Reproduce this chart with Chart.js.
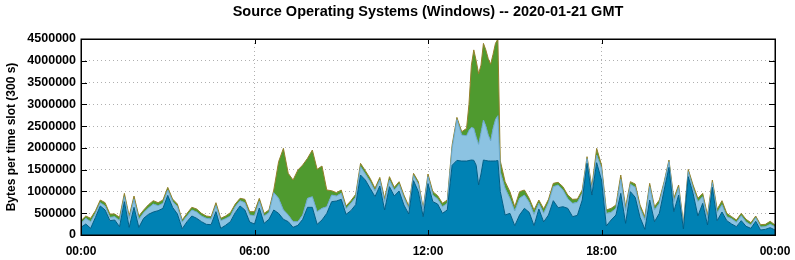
<!DOCTYPE html>
<html>
<head>
<meta charset="utf-8">
<script src="https://cdn.jsdelivr.net/npm/chart.js@4/dist/chart.umd.min.js"></script>
<style>
html,body{margin:0;padding:0;background:#fff;}
#wrap{width:795px;height:260px;}
</style>
</head>
<body>
<div id="wrap"><canvas id="c" width="795" height="260"></canvas></div>
<script>
// time slots (minutes of day): 10-min steps, 5-min steps through the 13:20-14:30 burst
function range(a, b, s){ const r = []; for (let v = a; v <= b; v += s) r.push(v); return r; }
const slotMinutes = [...range(0, 800, 10), ...range(805, 870, 5), ...range(880, 1440, 10)];
const xTickMinutes = [0, 360, 720, 1080, 1440];
const yTicks = [0, 500000, 1000000, 1500000, 2000000, 2500000, 3000000, 3500000, 4000000, 4500000];

// series values in kB per 300 s slot
const seriesA_k = [176,252,153,405,666,574,329,344,191,765,176,635,176,383,474,528,558,612,910,635,482,145,306,436,383,306,245,237,536,153,222,306,513,666,574,298,252,620,268,360,574,497,360,306,176,222,360,635,635,245,344,497,765,780,819,474,558,696,1377,1262,1071,880,1125,574,1109,895,1010,689,482,1247,995,421,1180,765,711,497,574,1600,1713,1698,1698,
  1710,1721,1715,1600,1150,1400,1721,1710,1700,1698,1698,1700,1710,1000,
  459,497,214,459,612,520,214,597,300,459,788,627,650,612,421,451,803,1645,918,1660,1262,207,344,459,956,268,995,864,405,130,803,306,497,1033,1553,536,918,138,1339,956,436,727,230,1094,329,528,329,252,191,329,199,153,314,115,130,168,115];
const seriesB_k = [92,131,153,92,76,92,76,77,138,115,199,184,184,130,146,183,115,115,123,138,168,153,130,138,145,130,138,130,137,176,153,130,137,122,168,161,192,153,168,153,398,345,214,153,130,84,99,207,245,291,268,153,153,115,137,130,169,168,191,138,153,130,137,191,153,138,153,168,130,115,168,153,160,153,115,153,153,390,937,597,582,
  690,749,735,650,930,950,919,790,600,462,752,950,1030,450,
  612,345,337,383,306,230,260,130,200,283,321,521,383,222,306,299,153,107,115,176,268,290,176,153,322,290,168,230,207,214,306,268,230,153,130,229,168,76,115,115,329,153,153,107,184,168,92,123,100,115,99,77,84,69,61,77,76];
const seriesC_k = [61,53,77,61,61,76,77,61,76,76,61,76,76,61,76,77,69,76,61,53,61,46,61,61,69,61,53,54,69,54,61,77,61,54,77,77,92,69,61,61,61,841,1415,956,956,1186,1148,918,1071,971,972,383,99,77,77,62,61,69,77,76,76,61,61,77,77,61,61,61,54,53,61,38,60,77,77,77,76,75,50,76,168,
  600,1430,1800,1750,1620,1550,1760,1750,1750,1760,1700,1750,1760,250,
  153,153,99,153,115,92,100,76,100,77,77,61,76,84,92,76,77,46,76,153,77,77,92,77,99,92,61,76,77,77,77,76,76,38,38,77,62,54,53,77,77,76,76,61,76,92,76,46,53,53,62,53,38,53,54,69,39];

const seriesNames = ['Windows A', 'Windows B', 'Windows C'];
const fillColors = ['#0082b4', '#8cc3e2', '#4f9a2f'];
const lineColors = ['#005d85', '#6aa7cb', '#93802a'];

function toPoints(arr){ return arr.map((v, i) => ({x: slotMinutes[i], y: v * 1000})); }

function fmtTime(m){
  const h = Math.floor(m / 60) % 24, mm = m % 60;
  return String(h).padStart(2,'0') + ':' + String(mm).padStart(2,'0');
}

const frameTicks = {
  id: 'frameTicks',
  afterDraw(chart){
    const {ctx, chartArea: a, scales} = chart;
    ctx.save();
    ctx.strokeStyle = '#000';
    ctx.lineWidth = 1;
    ctx.beginPath();
    yTicks.forEach(v => {
      const y = Math.round(scales.y.getPixelForValue(v)) + 0.5;
      ctx.moveTo(a.left, y); ctx.lineTo(a.left + 6, y);
      ctx.moveTo(a.right, y); ctx.lineTo(a.right - 6, y);
    });
    xTickMinutes.forEach(v => {
      const x = Math.round(scales.x.getPixelForValue(v)) + 0.5;
      ctx.moveTo(x, a.bottom); ctx.lineTo(x, a.bottom - 5);
      ctx.moveTo(x, a.top); ctx.lineTo(x, a.top + 5);
    });
    ctx.stroke();
    ctx.lineWidth = 1.5;
    ctx.strokeRect(Math.round(a.left) + 0.25, Math.round(a.top) + 0.25, Math.round(a.right - a.left), Math.round(a.bottom - a.top));
    ctx.restore();
  }
};

const datasets = [seriesA_k, seriesB_k, seriesC_k].map((arr, k) => ({
  label: seriesNames[k],
  data: toPoints(arr),
  backgroundColor: fillColors[k],
  borderColor: lineColors[k],
  borderWidth: 1,
  pointRadius: 0,
  tension: 0,
  fill: k === 0 ? 'origin' : '-1'
}));

const FONT = '"Liberation Sans", Arial, sans-serif';

new Chart(document.getElementById('c'), {
  type: 'line',
  data: { datasets },
  options: {
    responsive: false,
    animation: false,
    devicePixelRatio: 1,
    layout: { padding: { left: 0, right: 20, top: 0, bottom: 0 } },
    plugins: {
      legend: { display: false },
      tooltip: { enabled: false },
      title: {
        display: true,
        fullSize: false,
        text: 'Source Operating Systems (Windows) -- 2020-01-21 GMT',
        color: '#000',
        font: { family: FONT, size: 14.5, weight: 'bold' },
        padding: { top: 3, bottom: 18.6 }
      }
    },
    scales: {
      x: {
        type: 'linear',
        min: 0, max: 1440,
        afterBuildTicks(s){ s.ticks = xTickMinutes.map(v => ({value: v})); },
        afterFit(s){ s.height = 25; s.paddingLeft = 0; s.paddingRight = 0; },
        ticks: {
          callback: v => fmtTime(v),
          color: '#000',
          padding: 9,
          maxRotation: 0,
          font: { family: FONT, size: 12, weight: 'bold' }
        },
        grid: {
          drawTicks: false,
          color: ctx => (ctx.tick && (ctx.tick.value === 0 || ctx.tick.value === 1440)) ? 'rgba(0,0,0,0)' : '#b0b0b0',
          lineWidth: 1
        },
        border: { display: false, dash: [1, 3] }
      },
      y: {
        stacked: true,
        min: 0, max: 4500000,
        afterBuildTicks(s){ s.ticks = yTicks.map(v => ({value: v})); },
        afterFit(s){ s.width = 81; },
        ticks: {
          callback: v => String(v),
          color: '#000',
          padding: 5,
          font: { family: FONT, size: 12.5, weight: 'bold' }
        },
        grid: {
          drawTicks: false,
          color: ctx => (ctx.tick && (ctx.tick.value === 0 || ctx.tick.value === 4500000)) ? 'rgba(0,0,0,0)' : '#b0b0b0',
          lineWidth: 1
        },
        border: { display: false, dash: [1, 3] },
        title: {
          display: true,
          text: 'Bytes per time slot (300 s)',
          color: '#000',
          padding: { top: 4, bottom: 0 },
          font: { family: FONT, size: 12, weight: 'bold' }
        }
      }
    }
  },
  plugins: [frameTicks]
});
</script>
</body>
</html>
